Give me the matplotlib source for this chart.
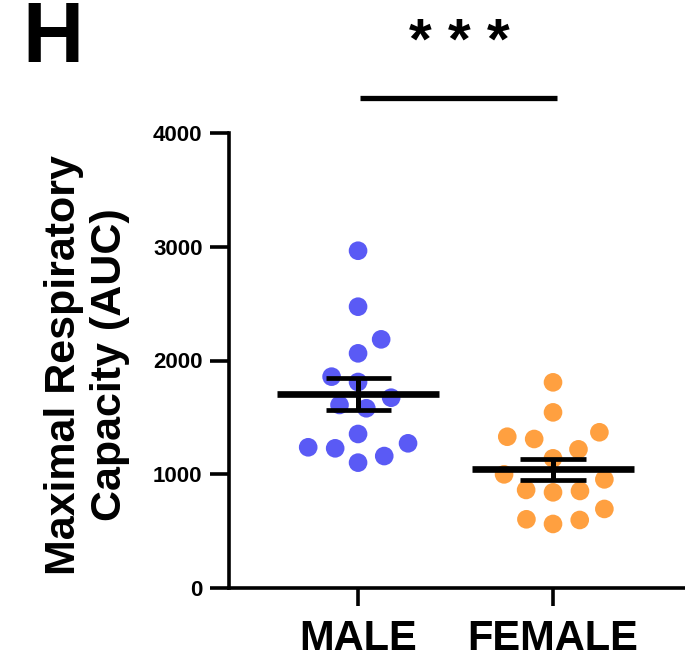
import numpy as np
import matplotlib
matplotlib.use("Agg")
from matplotlib import pyplot as plt

plt.rcParams['font.family'] = ['Liberation Sans', 'DejaVu Sans']

# maximal respiratory capacity (AUC) per animal
groups = ["MALE", "FEMALE"]
male = [2965, 2473, 2186, 2063, 1858, 1811, 1673, 1580, 1609, 1354,
        1272, 1237, 1228, 1160, 1102]
female = [1808, 1544, 1369, 1330, 1310, 1219, 1140, 999, 955, 841,
          853, 862, 695, 598, 604, 563]
colors = ["#5a5af5", "#ffa040"]
yticks = [0, 1000, 2000, 3000, 4000]
sig_label = "* * *"

fig = plt.figure(figsize=(6.85, 6.62), dpi=100)
ax = fig.add_axes([229/685, 74/662, 456/685, 455/662])
ax.set_xlim(-0.662, 1.677)
ax.set_ylim(0, 4000)

# pixel scale of the axes, used to lay the dots out as a swarm
px_x = 456 / (1.677 + 0.662)
px_y = 455 / 4000.0
gap = 27.0   # spacing kept between dot centres when spreading them


def swarm(vals):
    # greedy beeswarm: lowest value first, each dot as close to the centre
    # as it can go without crowding the dots already placed
    vals = np.asarray(vals, dtype=float)
    ys = vals * px_y
    xs = np.zeros(len(vals))
    placed = []
    for i in np.argsort(vals, kind="stable"):
        y = ys[i]
        cands = [0.0]
        for (qx, qy) in placed:
            dy = abs(y - qy)
            if dy < gap:
                dx = np.sqrt(gap**2 - dy**2)
                cands += [qx + dx, qx - dx]
        cands.sort(key=abs)
        for c in cands:
            if all((c - qx)**2 + (y - qy)**2 >= gap**2 - 1e-6 for qx, qy in placed):
                break
        placed.append((c, y))
        xs[i] = c
    return xs / px_x


for k, (vals, col) in enumerate(zip([male, female], colors)):
    vals = np.asarray(vals, dtype=float)
    ax.scatter(k + swarm(vals), vals, s=180, color=col, edgecolors='none',
               zorder=2, clip_on=False)
    m = vals.mean()
    sem = vals.std(ddof=1) / np.sqrt(len(vals))
    ax.hlines(m, k - 0.415, k + 0.415, color='black', lw=4.8, zorder=3)
    ax.vlines(k, m - sem, m + sem, color='black', lw=3.6, zorder=3)
    ax.hlines([m - sem, m + sem], k - 0.167, k + 0.167, color='black',
              lw=3.4, zorder=3)

# significance bar
ax.plot([0.01, 1.02], [4308, 4308], color='black', lw=3.8,
        clip_on=False, solid_capstyle='butt')
fig.text(459.5/685, 1 - 44/662, sig_label, ha='center', va='center',
         fontsize=42, fontweight='bold')

ax.set_xticks([0, 1])
ax.set_xticklabels(groups, fontsize=30, fontweight='bold')
ax.set_yticks(yticks)
ax.set_yticklabels([str(t) for t in yticks], fontsize=16, fontweight='bold')
ax.tick_params(axis='x', length=13, width=2.6, pad=9)
ax.tick_params(axis='y', length=14, width=2.6, pad=5)

for s in ['top', 'right']:
    ax.spines[s].set_visible(False)
for s in ['left', 'bottom']:
    ax.spines[s].set_linewidth(2.6)

fig.text(87/685, 1 - 365/662, "Maximal Respiratory\nCapacity (AUC)",
         rotation=90, ha='center', va='center', fontsize=31,
         fontweight='bold', linespacing=1.22)

fig.text(22/685, 1 - 0/662, "H", ha='left', va='top', fontsize=61,
         fontweight='bold')

fig.savefig("out.png", dpi=100)
